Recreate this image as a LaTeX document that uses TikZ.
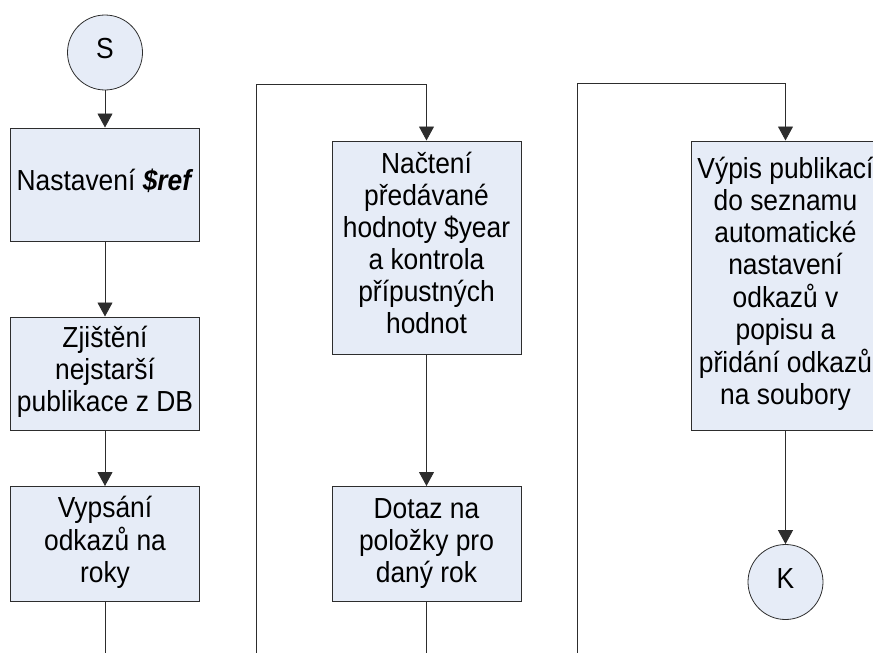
\documentclass[tikz,border=0pt]{standalone}
\usepackage{fontspec}
\usepackage{graphicx}
\setmainfont{Liberation Sans}
\usetikzlibrary{arrows.meta}
\definecolor{boxfill}{RGB}{230,236,247}
\definecolor{edge}{RGB}{45,45,45}
% condensed, centred block of lines
\newcommand{\boxtext}[1]{\scalebox{0.91}[1]{\begin{tabular}{@{}c@{}}#1\end{tabular}}}
\tikzset{
  every node/.style={font=\fontsize{29}{32}\selectfont, text=black},
  stepbox/.style={draw=edge, fill=boxfill, line width=1pt, rectangle,
    minimum width=189pt, inner sep=0pt},
  terminal/.style={draw=edge, fill=boxfill, line width=0.8pt, circle,
    minimum size=75pt, inner sep=0pt},
  flow/.style={draw=edge, line width=0.9pt, -{Triangle[length=14pt,width=15pt]}},
  plain/.style={draw=edge, line width=0.9pt},
}
\begin{document}
\begin{tikzpicture}[x=1pt, y=-1pt]
\useasboundingbox (0,0) rectangle (873,653);
\clip (0,0) rectangle (873,653);

% first column
\node[terminal] (start) at (105,52.5) {\boxtext{S}};
\node[stepbox, minimum height=113pt] (ref) at (105,184.5) {\boxtext{Nastavení \textbf{\textit{\$ref}}}};
\node[stepbox, minimum height=113pt] (oldest) at (105,373.5) {\boxtext{Zjištění\\nejstarší\\publikace z DB}};
\node[stepbox, minimum height=115pt] (links) at (105,544) {\boxtext{Vypsání\\odkazů na\\roky}};
\coordinate (c1end) at (105,653);

\draw[flow] (start) -- (ref);
\draw[flow] (ref) -- (oldest);
\draw[flow] (oldest) -- (links);
\draw[plain] (links) -- (c1end);

% second column
\node[stepbox, minimum height=213pt] (load) at (426.5,247.5) {\boxtext{Načtení\\předávané\\hodnoty \$year\\a kontrola\\přípustných\\hodnot}};
\node[stepbox, minimum height=115pt] (query) at (426.5,544) {\boxtext{Dotaz na\\položky pro\\daný rok}};
\coordinate (c2in) at (256,653);
\coordinate (c2turn) at (256,84);
\coordinate (c2top) at (426.5,84);
\coordinate (c2end) at (426.5,653);

\draw[flow] (c2in) -- (c2turn) -- (c2top) -- (load);
\draw[flow] (load) -- (query);
\draw[plain] (query) -- (c2end);

% third column
\node[stepbox, minimum height=289pt] (list) at (785.5,285.5) {\boxtext{Výpis publikací\\do seznamu\\automatické\\nastavení\\odkazů v\\popisu a\\přidání odkazů\\na soubory}};
\node[terminal] (stop) at (785.5,582) {\boxtext{K}};
\coordinate (c3in) at (577,653);
\coordinate (c3turn) at (577,83);
\coordinate (c3top) at (785.5,83);

\draw[flow] (c3in) -- (c3turn) -- (c3top) -- (list);
\draw[flow] (list) -- (stop);
\end{tikzpicture}
\end{document}
